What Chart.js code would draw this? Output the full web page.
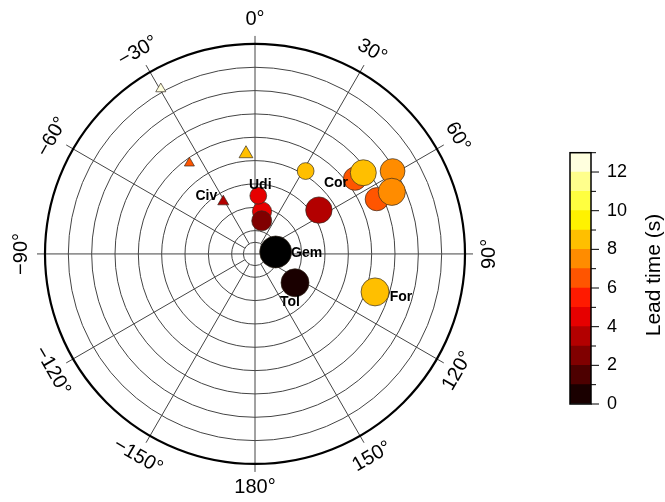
<!DOCTYPE html>
<html>
<head>
<meta charset="utf-8">
<script src="https://cdn.jsdelivr.net/npm/chart.js@4.4.1/dist/chart.umd.min.js"></script>
<style>
  html, body { margin: 0; padding: 0; background: #fff; }
  #wrap { position: relative; width: 665px; height: 502px; overflow: hidden; background: #fff; }
  #polar { position: absolute; left: 0; top: 0; }
  #cbar { position: absolute; left: 560px; top: 140px; }
</style>
</head>
<body>
<div id="wrap">
  <canvas id="polar" width="665" height="502"></canvas>
  <canvas id="cbar" width="105" height="280"></canvas>
</div>
<script>
// ---- station data ----
const stationNames = ['', '', '', 'Civ', '', '', 'Udi', 'Gem', 'Tol', 'For', '', '', 'Cor', '', '', '', ''];
const stationKind  = ['T', 'T', 'T', 'T', 'C', 'C', 'C', 'C', 'C', 'C', 'C', 'C', 'C', 'C', 'C', 'C', 'C'];
const azimuthDeg   = [-29.5, -35.6, -5.1, -31.0, 9.3, 11.4, 3.2, 84.5, 126.0, 107.7, 55.3, 31.2, 52.8, 52.9, 65.6, 58.7, 65.4];
const distanceKm   = [82.0, 48.3, 43.5, 26.4, 18.6, 14.6, 25.2, 8.9, 21.2, 54.0, 33.3, 41.9, 53.8, 58.2, 57.3, 69.0, 64.5];
const leadTime     = [12.5, 6.5, 8.5, 3.5, 4.7, 2.5, 4.5, -0.5, 0.5, 8.5, 3.5, 8.5, 6.5, 8.5, 6.5, 7.5, 7.5];
const magnitude    = [3.45, 3.45, 4.0, 3.6, 4.4, 4.5, 4.1, 6.0, 5.5, 5.5, 5.3, 4.1, 4.9, 5.25, 4.9, 5.1, 5.4];

// ---- axes ----
const angleTicks = [0, 30, 60, 90, 120, 150, 180, -150, -120, -90, -60, -30];
const ringKm     = [5, 10, 20, 30, 40, 50, 60, 70, 80];
const radialMax  = 90;
const leadLevels = [0, 1, 2, 3, 4, 5, 6, 7, 8, 9, 10, 11, 12, 13];
const leadTickLabels = [0, 2, 4, 6, 8, 10, 12];
const leadPalette = ['#1a0000', '#4d0000', '#800000', '#b30000', '#e60000', '#ff1a00', '#ff5500',
                     '#ff8c00', '#ffbf00', '#fff200', '#ffff40', '#ffff8c', '#ffffde'];

const FONT = '"Liberation Sans", Arial, Helvetica, sans-serif';
const DEG = Math.PI / 180;

function leadColor(v) {
  if (v < 0) return '#000000';
  const i = Math.min(leadPalette.length - 1, Math.floor(v));
  return leadPalette[i];
}
function markerRadius(m) { return 4 * (m - 2); }

// name label placement (px offset from the marker centre)
const labelOffset = {
  Udi: [2, -11], Civ: [-17, -5], Cor: [-19, 4], Gem: [31, 1], Tol: [-5, 19], For: [26, 5]
};

// polar grid: rings, spokes, outer frame and azimuth labels
const polarGrid = {
  id: 'polarGrid',
  beforeDatasetsDraw(chart) {
    const { ctx, scales: { x, y } } = chart;
    const cx = x.getPixelForValue(0), cy = y.getPixelForValue(0);
    const k = x.getPixelForValue(1) - cx;
    const R = radialMax * k;
    ctx.save();
    ctx.strokeStyle = '#444';
    ctx.lineWidth = 1;
    ringKm.forEach(r => {
      ctx.beginPath();
      ctx.arc(cx, cy, r * k, 0, 2 * Math.PI);
      ctx.stroke();
    });
    const outerTick = R + 8;
    angleTicks.forEach(a => {
      const t = a * DEG;
      const r0 = (a % 90 === 0) ? 0 : ringKm[0] * k;
      ctx.beginPath();
      ctx.moveTo(cx + r0 * Math.sin(t), cy - r0 * Math.cos(t));
      ctx.lineTo(cx + outerTick * Math.sin(t), cy - outerTick * Math.cos(t));
      ctx.stroke();
    });
    ctx.strokeStyle = '#000';
    ctx.lineWidth = 2.2;
    ctx.beginPath();
    ctx.arc(cx, cy, R, 0, 2 * Math.PI);
    ctx.stroke();

    ctx.fillStyle = '#000';
    ctx.font = '20px ' + FONT;
    ctx.textAlign = 'center';
    ctx.textBaseline = 'middle';
    const LR = R + 24;
    angleTicks.forEach(a => {
      const t = a * DEG;
      let rot = a;
      if (rot >= 90) rot -= 180;
      if (rot < -90) rot += 180;
      const txt = (a < 0 ? '\u2212' : '') + Math.abs(a) + '\u00B0';
      ctx.save();
      ctx.translate(cx + LR * Math.sin(t), cy - LR * Math.cos(t));
      ctx.rotate(rot * DEG);
      ctx.fillText(txt, 0, 0);
      ctx.restore();
    });
    ctx.restore();
  }
};

// station name labels
const stationLabels = {
  id: 'stationLabels',
  afterDatasetsDraw(chart) {
    const { ctx } = chart;
    const meta = chart.getDatasetMeta(0);
    ctx.save();
    ctx.fillStyle = '#000';
    ctx.font = 'bold 14px ' + FONT;
    ctx.textAlign = 'center';
    ctx.textBaseline = 'middle';
    stationNames.forEach((n, i) => {
      if (!n) return;
      const el = meta.data[i];
      const [dx, dy] = labelOffset[n] || [0, -12];
      ctx.fillText(n, el.x + dx, el.y + dy);
    });
    ctx.restore();
  }
};

const points = azimuthDeg.map((a, i) => ({
  x: distanceKm[i] * Math.sin(a * DEG),
  y: distanceKm[i] * Math.cos(a * DEG)
}));

const span = 100;
const pxPerKm = 210 / radialMax;
new Chart(document.getElementById('polar'), {
  type: 'scatter',
  data: {
    datasets: [{
      data: points,
      pointStyle: stationKind.map(s => s === 'T' ? 'triangle' : 'circle'),
      pointRadius: magnitude.map(markerRadius),
      backgroundColor: leadTime.map(leadColor),
      borderColor: 'rgba(50,40,30,0.85)',
      borderWidth: 0.8,
      clip: false
    }]
  },
  options: {
    responsive: false,
    animation: false,
    events: [],
    layout: { padding: { left: 255 - span * pxPerKm, top: 256 - span * pxPerKm,
                         right: 665 - 255 - span * pxPerKm, bottom: 502 - 256 - span * pxPerKm } },
    plugins: { legend: { display: false }, tooltip: { enabled: false } },
    scales: {
      x: { type: 'linear', min: -span, max: span, display: false },
      y: { type: 'linear', min: -span, max: span, display: false }
    }
  },
  plugins: [polarGrid, stationLabels]
});

// ---- colour bar ----
const cbDecor = {
  id: 'cbDecor',
  afterDraw(chart) {
    const { ctx, chartArea: a, scales: { y } } = chart;
    ctx.save();
    ctx.strokeStyle = '#000';
    ctx.lineWidth = 1;
    leadLevels.forEach(v => {
      const py = y.getPixelForValue(v);
      const len = leadTickLabels.includes(v) ? 8 : 5;
      ctx.beginPath();
      ctx.moveTo(a.right, py);
      ctx.lineTo(a.right + len, py);
      ctx.stroke();
    });
    ctx.lineWidth = 1.5;
    ctx.strokeRect(a.left, a.top, a.right - a.left, a.bottom - a.top);
    ctx.fillStyle = '#000';
    ctx.font = '21px ' + FONT;
    ctx.textAlign = 'center';
    ctx.textBaseline = 'alphabetic';
    ctx.translate(100, 135);
    ctx.rotate(-Math.PI / 2);
    ctx.fillText('Lead time (s)', 0, 0);
    ctx.restore();
  }
};

new Chart(document.getElementById('cbar'), {
  type: 'bar',
  data: {
    labels: [''],
    datasets: leadPalette.map(c => ({
      data: [1],
      backgroundColor: c,
      borderWidth: 0,
      barPercentage: 1,
      categoryPercentage: 1
    }))
  },
  options: {
    responsive: false,
    animation: false,
    events: [],
    layout: { padding: { left: 10, top: 12.7, bottom: 16, right: 0 } },
    plugins: { legend: { display: false }, tooltip: { enabled: false } },
    scales: {
      x: { display: false, stacked: true },
      y: {
        stacked: true,
        position: 'right',
        min: leadLevels[0],
        max: leadLevels[leadLevels.length - 1],
        border: { display: false },
        grid: { display: true, drawOnChartArea: false, drawTicks: true, tickLength: 8, color: 'rgba(0,0,0,0)' },
        ticks: {
          stepSize: 1,
          autoSkip: false,
          padding: 8,
          color: '#000',
          font: { size: 18, family: FONT },
          callback: v => leadTickLabels.includes(v) ? String(v) : ''
        },
        afterFit: s => { s.width = 74; s.paddingTop = 0; s.paddingBottom = 0; }
      }
    }
  },
  plugins: [cbDecor]
});
</script>
</body>
</html>
